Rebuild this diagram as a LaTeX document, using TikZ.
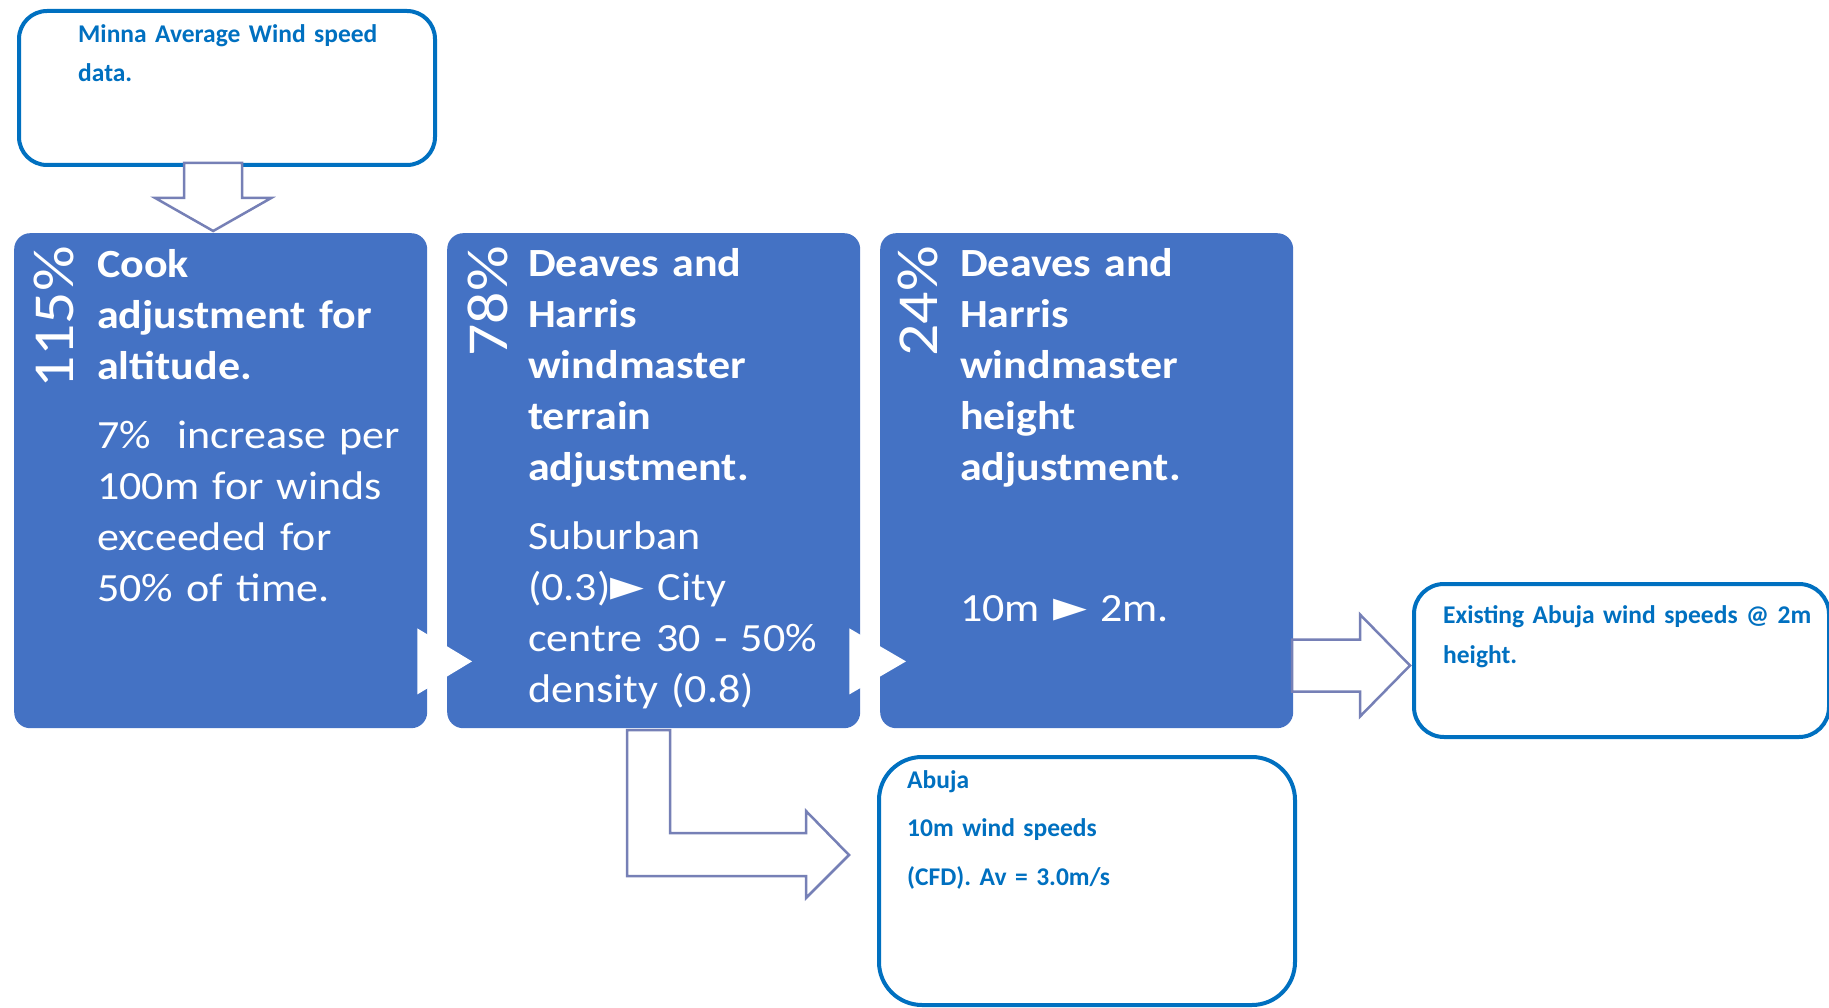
\documentclass[tikz,border=0pt]{standalone}
\usepackage{fontspec}
\setmainfont{Carlito}
\newfontfamily\stagefont{Carlito}[FakeStretch=1.1]
\newfontfamily\symf{DejaVu Sans}
\usetikzlibrary{calc}

\definecolor{stageblue}{HTML}{4472C4}
\definecolor{noteblue}{HTML}{0070C0}
\definecolor{arrowgrey}{RGB}{118,128,182}

\tikzset{
  stage/.style={fill=stageblue, rounded corners=16pt, minimum width=413pt, minimum height=495pt, anchor=north west, inner sep=0pt},
  stagetext/.style={text=white, anchor=base west, inner sep=0pt, text width=335pt, align=left, font=\stagefont\fontsize{40}{51}\selectfont},
  pct/.style={text=white, rotate=90, anchor=base east, inner sep=0pt, font=\stagefont\fontsize{58}{60}\selectfont},
  note/.style={draw=noteblue, line width=4pt, fill=white, anchor=north west, inner sep=0pt},
  notetext/.style={text=noteblue, anchor=base west, inner sep=0pt, text width=400pt, align=left},
  hollow/.style={draw=arrowgrey, line width=2.5pt, fill=white, line join=miter},
  wedge/.style={fill=white},
}

\newcommand{\pointer}{{\symf\fontsize{44}{44}\selectfont\char"25BA}}

\begin{document}
\begin{tikzpicture}[x=1pt, y=-1pt]
\useasboundingbox (0,0) rectangle (1829,1008);

% input data
\node[note, rounded corners=28pt, minimum width=416pt, minimum height=154pt] (minna) at (17,9) {};
\node[notetext, font=\bfseries\fontsize{25.5}{39}\selectfont] (minnatxt) at (78,43) {Minna Average Wind speed\\data.};

% the three adjustment stages
\node[stage] (cook) at (14,233) {};
\node[pct] (cookpct) at (73,246) {115\%};
\node[stagetext] (cooktxt) at (97,278) {{\bfseries Cook\\adjustment for\\altitude.}\\[18pt]7\%~~increase per\\100m for winds\\exceeded for\\50\% of time.};

\node[stage] (terrain) at (447,233) {};
\node[pct] (terrainpct) at (507,246) {78\%};
\node[stagetext] (terraintxt) at (528,277) {{\bfseries Deaves and\\Harris\\windmaster\\terrain\\adjustment.}\\[18pt]Suburban\\(0.3)\pointer{} City\\centre 30 - 50\%\\density (0.8)};

\node[stage] (height) at (880,233) {};
\node[pct] (heightpct) at (937,246) {24\%};
\node[stagetext] (heighttxt) at (960,277) {{\bfseries Deaves and\\Harris\\windmaster\\height\\adjustment.}\\[90pt]10m \pointer{} 2m.};

% wedges between stages
\fill[wedge] ($(cook.south east)+(-10,-100)$) -- ($(terrain.south west)+(25,-67)$) -- ($(cook.south east)+(-10,-34)$) -- cycle;
\fill[wedge] ($(terrain.south east)+(-11,-100)$) -- ($(height.south west)+(26,-67)$) -- ($(terrain.south east)+(-11,-34)$) -- cycle;

% outputs
\node[note, rounded corners=30pt, minimum width=415pt, minimum height=153pt] (exist) at (1412,582) {};
\node[notetext, font=\bfseries\fontsize{25.5}{40}\selectfont] (existtxt) at (1443,623) {Existing Abuja wind speeds @ 2m\\height.};

\node[note, rounded corners=43pt, minimum width=416pt, minimum height=248pt] (abuja) at (877,755) {};
\node[notetext, font=\bfseries\fontsize{25.5}{48.5}\selectfont] (abujatxt) at (907,788) {Abuja\\10m wind speeds\\(CFD). Av = 3.0m/s};

% hollow arrows
\coordinate (dtip) at ($(cook.north)+(-7.5,-2)$);
\draw[hollow] (dtip) -- ++(-58,-33) -- ++(29,0) -- ++(0,-35) -- ++(58,0) -- ++(0,35) -- ++(29,0) -- cycle;

\coordinate (rtip) at ($(exist.west)+(-2,5)$);
\draw[hollow] (rtip) -- ++(-50,-51) -- ++(0,25) -- ++(-68,0) -- ++(0,52) -- ++(68,0) -- ++(0,25) -- cycle;

\coordinate (ltip) at ($(abuja.west)+(-28,-26)$);
\draw[hollow] (ltip) -- ++(-43,-44) -- ++(0,22) -- ++(-136,0) -- ++(0,-103) -- ++(-43,0) -- ++(0,146) -- ++(179,0) -- ++(0,22) -- cycle;
\end{tikzpicture}
\end{document}
